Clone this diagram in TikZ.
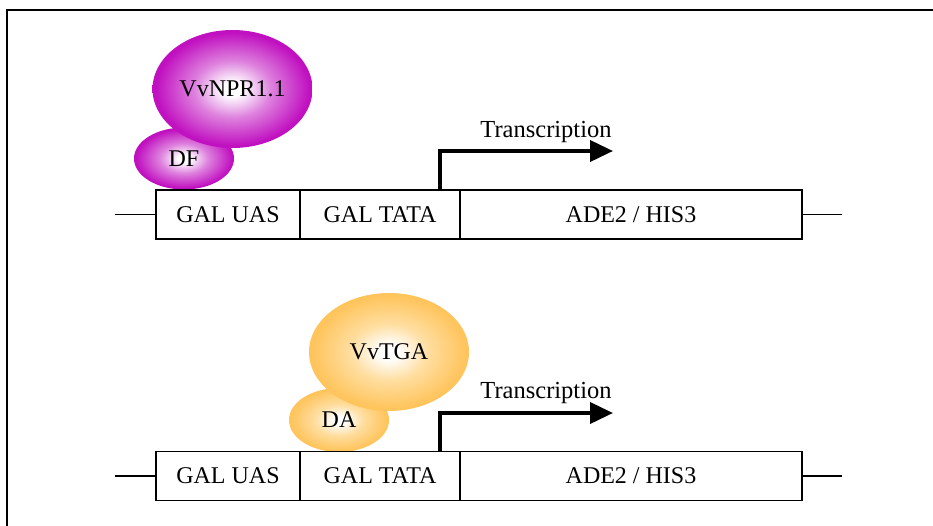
\documentclass[tikz,border=0pt]{standalone}
\usepackage{fontspec}
\setmainfont{Liberation Serif}
\usetikzlibrary{shapes.geometric,arrows.meta}
\definecolor{mag}{RGB}{192,16,192}
\definecolor{magmid}{RGB}{222,130,222}
\definecolor{org}{RGB}{255,196,92}
\definecolor{orgmid}{RGB}{255,222,160}
\pgfdeclareradialshading{magshade}{\pgfpoint{0bp}{0bp}}{color(0bp)=(white);color(3bp)=(white);color(12bp)=(magmid);color(24bp)=(mag);color(50bp)=(mag)}
\pgfdeclareradialshading{orgshade}{\pgfpoint{0bp}{0bp}}{color(0bp)=(white);color(3bp)=(white);color(12bp)=(orgmid);color(24bp)=(org);color(50bp)=(org)}
\begin{document}
\begin{tikzpicture}[x=1pt,y=-1pt,
  seg/.style={draw, line width=1.8, minimum height=49, inner sep=0, font=\fontsize{24}{28}\selectfont},
  blobm/.style={ellipse, inner sep=0, shading=magshade, font=\fontsize{24}{28}\selectfont},
  blobo/.style={ellipse, inner sep=0, shading=orgshade, font=\fontsize{24}{28}\selectfont},
  wire/.style={line width=1.8},
  txarrow/.style={line width=3.8, -{Triangle[length=23pt, width=21pt]}},
  txlabel/.style={anchor=base, inner sep=0, font=\fontsize{24.5}{28}\selectfont}]
\useasboundingbox (0,0) rectangle (933,525);
% frame
\draw[line width=1.3] (7,540) -- (7,10) -- (950,10);

% ---------- top construct ----------
\node[blobm, minimum width=100, minimum height=62] (df) at (184,158.5) {DF};
\node[blobm, minimum width=160, minimum height=118] (npr) at (232.5,89) {VvNPR1.1};
\node[seg, minimum width=144] (uas1) at (228,214.5) {GAL UAS};
\node[seg, minimum width=160] (tata1) at (380,214.5) {GAL TATA};
\node[seg, minimum width=342] (gene1) at (631,214.5) {ADE2 / HIS3};
\coordinate (l1) at (115,214.5);
\coordinate (r1) at (842,214.5);
\draw[wire] (l1) -- (uas1.west);
\draw[wire] (gene1.east) -- (r1);
\coordinate (ts1) at (440,190);
\coordinate (te1) at (613,151);
\draw[txarrow] (ts1) |- (te1);
\node[txlabel] (tr1) at (546,137) {Transcription};

% ---------- bottom construct ----------
\node[blobo, minimum width=100, minimum height=64] (da) at (339,420) {DA};
\node[blobo, minimum width=160, minimum height=118] (tga) at (389,352) {VvTGA};
\node[seg, minimum width=144] (uas2) at (228,476) {GAL UAS};
\node[seg, minimum width=160] (tata2) at (380,476) {GAL TATA};
\node[seg, minimum width=342] (gene2) at (631,476) {ADE2 / HIS3};
\coordinate (l2) at (115,476);
\coordinate (r2) at (842,476);
\draw[wire] (l2) -- (uas2.west);
\draw[wire] (gene2.east) -- (r2);
\coordinate (ts2) at (440,451.5);
\coordinate (te2) at (613,413);
\draw[txarrow] (ts2) |- (te2);
\node[txlabel] (tr2) at (546,398) {Transcription};
\end{tikzpicture}
\end{document}
